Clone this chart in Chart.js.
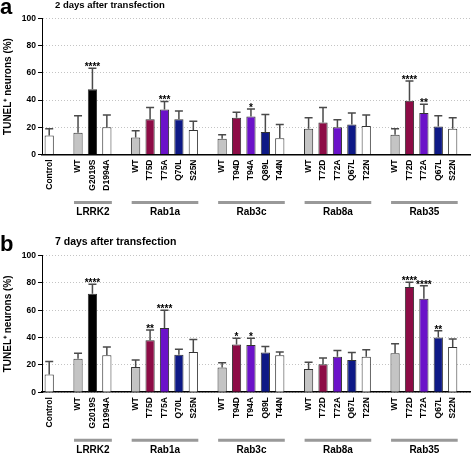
<!DOCTYPE html>
<html>
<head>
<meta charset="utf-8">
<script src="https://cdn.jsdelivr.net/npm/chart.js@4.4.0/dist/chart.umd.min.js"></script>
<style>
  html, body { margin: 0; padding: 0; background: #fff; overflow: hidden; }
  canvas { display: block; }
</style>
</head>
<body>
<canvas id="chartA" width="472" height="232"></canvas>
<canvas id="chartB" width="472" height="223"></canvas>
<script>
// Genes and constructs (first group is the control, no gene label)
const groupNames = ['', 'LRRK2', 'Rab1a', 'Rab3c', 'Rab8a', 'Rab35'];
const groupCategories = [
    ['Control'],
    ['WT', 'G2019S', 'D1994A'],
    ['WT', 'T75D', 'T75A', 'Q70L', 'S25N'],
    ['WT', 'T94D', 'T94A', 'Q89L', 'T44N'],
    ['WT', 'T72D', 'T72A', 'Q67L', 'T22N'],
    ['WT', 'T72D', 'T72A', 'Q67L', 'S22N']
];
const yTicks = [0, 20, 40, 60, 80, 100];

// 2 days after transfection: mean, error (upper) and significance
const day2Means  = [14, 16, 48, 20, 12.5, 26, 33, 26, 18, 11.5, 27, 28, 16.5, 12, 19, 23.5, 20, 22, 21, 14.5, 39.5, 30.5, 20.5, 19];
const day2Errors = [5, 12.5, 15.5, 9, 5, 8.5, 6, 6, 6.5, 3, 4, 5.5, 13, 10, 8, 11, 5.5, 8.5, 8, 4.5, 14.5, 6.5, 8, 8];
const day2Stars  = ['', '', '****', '', '', '', '***', '', '', '', '', '*', '', '', '', '', '', '', '', '', '****', '**', '', ''];

// 7 days after transfection
const day7Means  = [13, 24.5, 72, 27, 18.5, 38, 47, 27.5, 29.5, 18, 35, 34.5, 29, 27, 17, 20.5, 26, 23.5, 26, 28.5, 77, 68.5, 40, 33];
const day7Errors = [9.5, 4, 7, 6, 5, 7.5, 13, 4, 9, 3.5, 4.5, 5, 4.5, 2.5, 5, 4.5, 4.5, 5.5, 5, 7, 3.5, 9.5, 5, 6];
const day7Stars  = ['', '', '****', '', '', '**', '****', '', '', '', '*', '*', '', '', '', '', '', '', '', '', '****', '****', '**', ''];

const FONT = '"Liberation Sans", Arial, sans-serif';
Chart.defaults.font.family = FONT;

const colors = {
    gray: '#c4c4c4',
    black: '#000000',
    white: '#ffffff',
    crimson: '#8d0c46',
    purple: '#6b12c9',
    navy: '#0e1986'
};

function barColor(name) {
    if (name === 'WT') return colors.gray;
    if (name === 'G2019S') return colors.black;
    if (name === 'Control' || name === 'D1994A' || /N$/.test(name)) return colors.white;
    if (/D$/.test(name)) return colors.crimson;
    if (/A$/.test(name)) return colors.purple;
    return colors.navy;
}

// slot on the x axis for every bar, one empty slot between groups
const slots = [];
const slotLabels = {};
const groupSlots = [];
let pos = 0;
groupCategories.forEach((cats, g) => {
    if (g > 0) pos += 1;
    const first = pos;
    cats.forEach(name => {
        slots.push(pos);
        slotLabels[pos] = name;
        pos++;
    });
    groupSlots.push([first, pos - 1]);
});
const names = groupCategories.flat();

const panelText = {
    id: 'panelText',
    afterDraw(chart, args, opts) {
        const ctx = chart.ctx;
        const top = chart.chartArea.top;
        ctx.save();
        ctx.fillStyle = '#000';
        ctx.textAlign = 'left';
        ctx.textBaseline = 'alphabetic';
        ctx.font = 'bold 22px ' + FONT;
        ctx.fillText(opts.letter, 0, top - 5);
        ctx.font = 'bold ' + opts.titleSize + 'px ' + FONT;
        ctx.fillText(opts.title, 55, top - 10.5);
        ctx.restore();
    }
};

const errorBars = {
    id: 'errorBars',
    afterDatasetsDraw(chart) {
        const ctx = chart.ctx;
        const y = chart.scales.y;
        chart.data.datasets.forEach((ds, di) => {
            const meta = chart.getDatasetMeta(di);
            meta.data.forEach((bar, i) => {
                const top = y.getPixelForValue(ds.data[i].y + ds.errors[i]);
                ctx.save();
                ctx.strokeStyle = '#4a4a4a';
                ctx.lineWidth = 1.5;
                ctx.beginPath();
                ctx.moveTo(bar.x, bar.y);
                ctx.lineTo(bar.x, top);
                ctx.moveTo(bar.x - 4, top);
                ctx.lineTo(bar.x + 4, top);
                ctx.stroke();
                if (ds.stars[i]) {
                    ctx.fillStyle = '#000';
                    ctx.font = 'bold 10px ' + FONT;
                    ctx.textAlign = 'center';
                    ctx.textBaseline = 'alphabetic';
                    ctx.fillText(ds.stars[i], bar.x, top + 2);
                }
                ctx.restore();
            });
        });
    }
};

const groupAxis = {
    id: 'groupAxis',
    afterDraw(chart) {
        const ctx = chart.ctx;
        const x = chart.scales.x;
        const bottom = chart.chartArea.bottom;
        ctx.save();
        groupSlots.forEach(([first, last], g) => {
            if (!groupNames[g]) return;
            const x1 = x.getPixelForValue(first) - 4;
            const x2 = x.getPixelForValue(last) + 5;
            ctx.strokeStyle = '#999';
            ctx.lineWidth = 3;
            ctx.beginPath();
            ctx.moveTo(x1, bottom + 48);
            ctx.lineTo(x2, bottom + 48);
            ctx.stroke();
            ctx.fillStyle = '#000';
            ctx.font = 'bold 10px ' + FONT;
            ctx.textAlign = 'center';
            ctx.textBaseline = 'middle';
            ctx.fillText(groupNames[g], (x1 + x2) / 2, bottom + 58);
        });
        ctx.restore();
    }
};

function makeChart(id, panel) {
    const canvas = document.getElementById(id);
    const height = canvas.height;
    return new Chart(canvas.getContext('2d'), {
        type: 'bar',
        data: {
            datasets: [{
                data: slots.map((s, i) => ({ x: s, y: panel.means[i] })),
                errors: panel.errors,
                stars: panel.stars,
                backgroundColor: names.map(barColor),
                borderColor: '#333',
                borderWidth: 1,
                barPercentage: 0.64,
                categoryPercentage: 1
            }]
        },
        options: {
            responsive: false,
            animation: false,
            devicePixelRatio: 1,
            layout: { padding: { top: panel.top, right: 2, left: 0, bottom: 0 } },
            plugins: {
                legend: { display: false },
                tooltip: { enabled: false },
                panelText: { letter: panel.letter, title: panel.title, titleSize: panel.titleSize }
            },
            scales: {
                x: {
                    type: 'linear',
                    min: -0.5,
                    max: 29.2,
                    offset: false,
                    grid: { display: false, drawTicks: false, offset: false },
                    border: { display: true, color: '#000', width: 1.5 },
                    afterBuildTicks: s => { s.ticks = slots.map(v => ({ value: v })); },
                    afterFit: s => { s.height = height - panel.bottom; },
                    ticks: {
                        autoSkip: false,
                        minRotation: 90,
                        maxRotation: 90,
                        padding: 5,
                        color: '#000',
                        font: { size: 8.5, weight: 'bold' },
                        callback: v => slotLabels[v] || ''
                    }
                },
                y: {
                    min: 0,
                    max: 100,
                    afterBuildTicks: s => { s.ticks = yTicks.map(v => ({ value: v })); },
                    afterFit: s => { s.width = 42; },
                    ticks: { color: '#000', padding: 2, font: { size: 8.5, weight: 'bold' } },
                    grid: { color: '#c4c4c4', lineWidth: 1, drawTicks: true, tickLength: 4, tickColor: '#000', tickWidth: 1 },
                    border: { color: '#000', width: 1, dash: [1, 2] },
                    title: {
                        display: true,
                        text: 'TUNEL⁺ neurons (%)',
                        color: '#000',
                        font: { size: 10, weight: 'bold' },
                        padding: { top: 2, bottom: 0 }
                    }
                }
            }
        },
        plugins: [errorBars, groupAxis, panelText]
    });
}

makeChart('chartA', {
    letter: 'a', title: '2 days after transfection', titleSize: 9.5,
    top: 18.5, bottom: 154.5,
    means: day2Means, errors: day2Errors, stars: day2Stars
});
makeChart('chartB', {
    letter: 'b', title: '7 days after transfection', titleSize: 10.5,
    top: 23.6, bottom: 160.2,
    means: day7Means, errors: day7Errors, stars: day7Stars
});
</script>
</body>
</html>
